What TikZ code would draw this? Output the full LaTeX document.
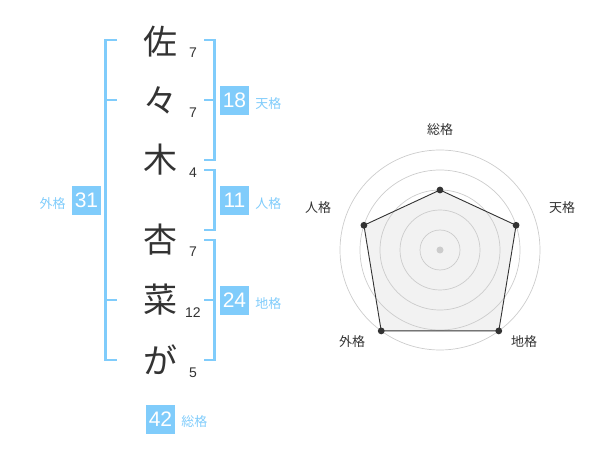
\documentclass[tikz,border=0pt]{standalone}
\usepackage{fontspec}
\setmainfont{Liberation Sans}
\newfontfamily\jpfont{Noto Sans CJK JP}
\usetikzlibrary{calc}
\definecolor{kakublue}{HTML}{80CCFB}
\definecolor{inkgray}{HTML}{333333}
\definecolor{ringgray}{HTML}{CCCCCC}
\definecolor{areagray}{HTML}{F2F2F2}

\tikzset{
kanji/.style={inner sep=0pt, text=inkgray, font=\jpfont\fontsize{34}{34}\selectfont},
strokes/.style={inner sep=0pt, text=inkgray, font=\fontsize{14}{14}\selectfont},
bracket/.style={draw=kakublue, line width=2.5pt},
kakubox/.style={rectangle, fill=kakublue, minimum size=29pt, inner sep=0pt, text=white, font=\fontsize{21}{21}\selectfont},
kakulabel/.style={inner sep=0pt, text=kakublue, font=\jpfont\fontsize{13}{13}\selectfont},
radarlabel/.style={inner sep=0pt, text=inkgray, font=\jpfont\fontsize{13}{13}\selectfont},
}

\begin{document}
\begin{tikzpicture}[x=1pt,y=-1pt]
\useasboundingbox (0,0) rectangle (600,470);

\draw node [kanji] (c1) at (160,42) {佐};
\draw node [kanji] (c2) at (160,100) {々};
\draw node [kanji] (c3) at (160,160) {木};
\draw node [kanji] (c4) at (160,240) {杏};
\draw node [kanji] (c5) at (160,300) {菜};
\draw node [kanji] (c6) at (160,360) {が};

\draw node [strokes] (s1) at ($ (c1)+(33,11) $) {7};
\draw node [strokes] (s2) at ($ (c2)+(33,13) $) {7};
\draw node [strokes] (s3) at ($ (c3)+(33,13) $) {4};
\draw node [strokes] (s4) at ($ (c4)+(33,12) $) {7};
\draw node [strokes] (s5) at ($ (c5)+(33,13) $) {12};
\draw node [strokes] (s6) at ($ (c6)+(33,13) $) {5};

\draw[bracket] (117,40) -- (105.5,40) -- (105.5,360) -- (117,360);
\draw[bracket] (105.5,100) -- (117,100);
\draw[bracket] (105.5,300) -- (117,300);

\draw[bracket] (204,40) -- (214.5,40) -- (214.5,160) -- (204,160);
\draw[bracket] (214.5,100) -- (204,100);
\draw[bracket] (204,170) -- (214.5,170) -- (214.5,230) -- (204,230);
\draw[bracket] (204,240) -- (214.5,240) -- (214.5,360) -- (204,360);
\draw[bracket] (214.5,300) -- (204,300);

\draw node [kakubox] (ten) at (234.5,100.5) {18};
\draw node [kakulabel, anchor=west] (tenl) at ($ (ten.east)+(6,3) $) {天格};
\draw node [kakubox] (jin) at (234.5,200.5) {11};
\draw node [kakulabel, anchor=west] (jinl) at ($ (jin.east)+(6,3) $) {人格};
\draw node [kakubox] (chi) at (234.5,300.5) {24};
\draw node [kakulabel, anchor=west] (chil) at ($ (chi.east)+(6,3) $) {地格};
\draw node [kakubox] (gai) at (86.5,200.5) {31};
\draw node [kakulabel, anchor=east] (gail) at ($ (gai.west)+(-6,3) $) {外格};
\draw node [kakubox] (sou) at (160.5,419.5) {42};
\draw node [kakulabel, anchor=west] (soul) at ($ (sou.east)+(6,2.5) $) {総格};

\begin{scope}[shift={(440,250)}, yscale=-1]
\coordinate (o) at (0,0);
\coordinate (rsou) at (90:60);
\coordinate (rten) at (18:80);
\coordinate (rchi) at (-54:100);
\coordinate (rgai) at (-126:100);
\coordinate (rjin) at (162:80);
\fill[areagray] (rsou) -- (rten) -- (rchi) -- (rgai) -- (rjin) -- cycle;
\foreach \r in {20,40,60,80,100}
  \draw[ringgray, line width=0.7pt] (o) circle (\r);
\fill[ringgray] (o) circle (3.5);
\draw[inkgray, line width=0.9pt] (rsou) -- (rten) -- (rchi) -- (rgai) -- (rjin) -- cycle;
\foreach \p in {rsou,rten,rchi,rgai,rjin}
  \fill[inkgray] (\p) circle (3.4);
\draw node [radarlabel] (lsou) at (0,120) {総格};
\draw node [radarlabel] (lten) at (122,42) {天格};
\draw node [radarlabel] (ljin) at (-122,42) {人格};
\draw node [radarlabel] (lgai) at (-88,-92) {外格};
\draw node [radarlabel] (lchi) at (84,-92) {地格};
\end{scope}

\end{tikzpicture}
\end{document}
